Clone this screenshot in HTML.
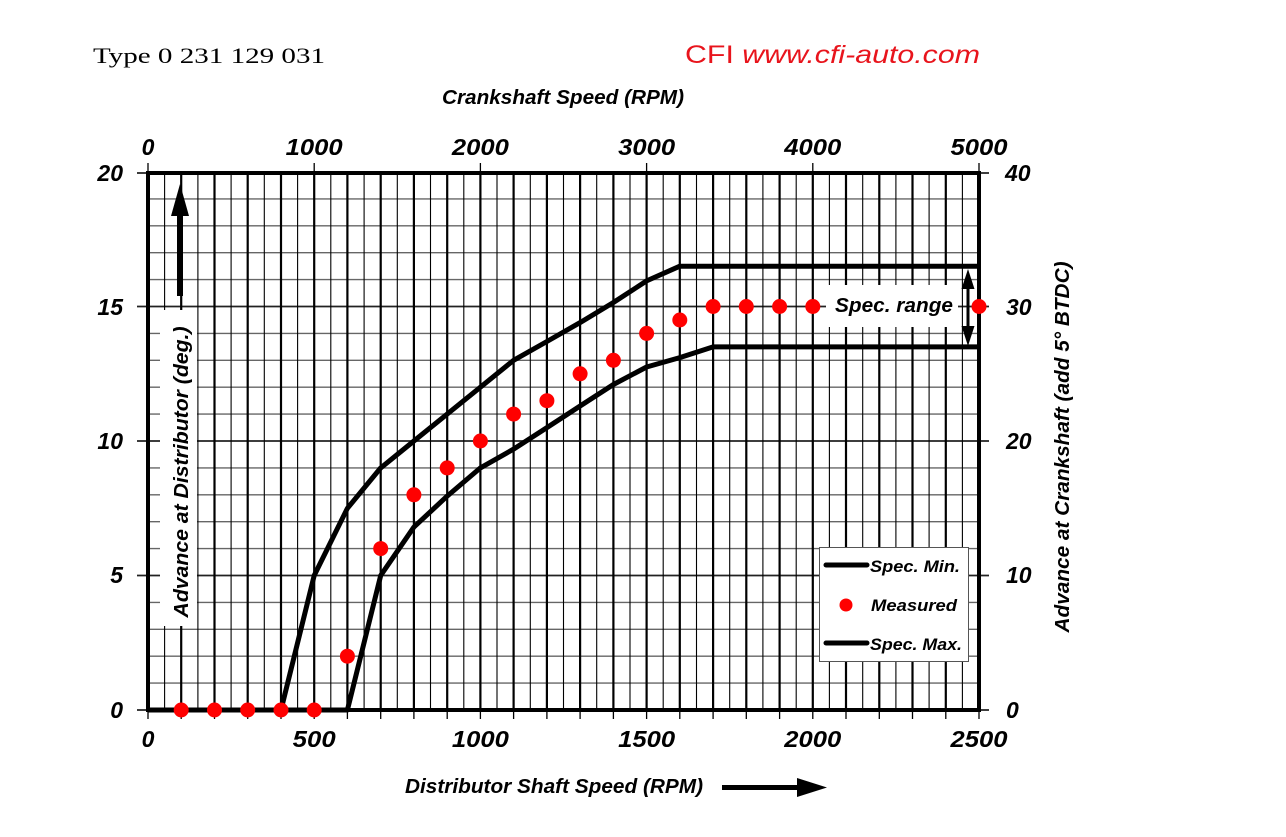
<!DOCTYPE html>
<html><head><meta charset="utf-8"><style>
html,body{margin:0;padding:0;background:#fff;}
svg{display:block;}
text{font-family:"Liberation Sans",Arial,sans-serif;}
.b{font-weight:bold;font-style:italic;fill:#000;}
</style></head><body>
<svg width="1286" height="837" viewBox="0 0 1286 837" xmlns="http://www.w3.org/2000/svg">
<rect width="1286" height="837" fill="#fff"/>
<text x="93" y="63" font-family="Liberation Serif, serif" font-size="22" fill="#000" textLength="232" lengthAdjust="spacingAndGlyphs" style="font-family:'Liberation Serif',serif">Type 0 231 129 031</text>
<text x="685" y="63" font-size="25" fill="#e8141c" textLength="295" lengthAdjust="spacingAndGlyphs">CFI <tspan font-style="italic">www.cfi-auto.com</tspan></text>
<text class="b" x="442" y="104" font-size="20" textLength="242" lengthAdjust="spacingAndGlyphs">Crankshaft Speed (RPM)</text>

<!-- minor horizontal grid -->
<path fill="none" stroke="#666" stroke-width="1.4" d="M148 683.1H979M148 656.2H979M148 629.3H979M148 602.4H979M148 548.6H979M148 521.7H979M148 494.8H979M148 467.9H979M148 414.1H979M148 387.2H979M148 360.3H979M148 333.4H979M148 279.6H979M148 252.7H979M148 225.8H979M148 198.9H979"/>
<!-- major horizontal grid + ticks -->
<path fill="none" stroke="#222" stroke-width="1.8" d="M137 575.5H989M137 441H989M137 306.5H989M137 173H989M137 710H989"/>
<!-- thin vertical -->
<path fill="none" stroke="#000" stroke-width="1.1" d="M164.6 173V710M197.9 173V710M231.1 173V710M264.3 173V710M297.6 173V710M330.8 173V710M364.1 173V710M397.3 173V710M430.5 173V710M463.8 173V710M497 173V710M530.3 173V710M563.5 173V710M596.7 173V710M630 173V710M663.2 173V710M696.5 173V710M729.7 173V710M762.9 173V710M796.2 173V710M829.4 173V710M862.7 173V710M895.9 173V710M929.1 173V710M962.4 173V710"/>
<!-- thick vertical -->
<path fill="none" stroke="#000" stroke-width="2.2" d="M181.2 173V710M214.5 173V710M247.7 173V710M281 173V710M314.2 173V710M347.4 173V710M380.7 173V710M413.9 173V710M447.2 173V710M480.4 173V710M513.6 173V710M546.9 173V710M580.1 173V710M613.4 173V710M646.6 173V710M679.8 173V710M713.1 173V710M746.3 173V710M779.6 173V710M812.8 173V710M846 173V710M879.3 173V710M912.5 173V710M945.8 173V710"/>
<!-- bottom ticks -->
<path fill="none" stroke="#000" stroke-width="1.3" d="M148 710V719M181.2 710V719M214.5 710V719M247.7 710V719M281 710V719M314.2 710V719M347.4 710V719M380.7 710V719M413.9 710V719M447.2 710V719M480.4 710V719M513.6 710V719M546.9 710V719M580.1 710V719M613.4 710V719M646.6 710V719M679.8 710V719M713.1 710V719M746.3 710V719M779.6 710V719M812.8 710V719M846 710V719M879.3 710V719M912.5 710V719M945.8 710V719M979 710V719"/>
<!-- top ticks -->
<path fill="none" stroke="#000" stroke-width="1.3" d="M148 163V173M314.2 163V173M480.4 163V173M646.6 163V173M812.8 163V173M979 163V173"/>

<!-- white boxes -->
<rect x="160" y="310" width="37" height="316" fill="#fff"/>
<rect x="826" y="285" width="132" height="42" fill="#fff"/>

<!-- border -->
<rect x="148" y="173" width="831" height="537" fill="none" stroke="#000" stroke-width="4"/>

<!-- left arrow -->
<rect x="177" y="212" width="6" height="84" fill="#000"/>
<polygon points="171,216 189,216 180,184" fill="#000"/>

<!-- curves -->
<polyline fill="none" stroke="#000" stroke-width="5" stroke-linejoin="round" points="148,710 281,710 314.2,575.5 347.4,508.3 380.7,467.9 413.9,441 447.2,414.1 480.4,387.2 513.6,360.3 546.9,341.5 580.1,322.6 613.4,302.5 646.6,280.9 679.8,266.2 979,266.2"/>
<polyline fill="none" stroke="#000" stroke-width="5" stroke-linejoin="round" points="148,710 347.4,710 380.7,575.5 413.9,527.1 447.2,496.1 480.4,467.9 513.6,449.1 546.9,427.6 580.1,406 613.4,384.5 646.6,367 679.8,357.6 713.1,346.9 979,346.9"/>

<!-- spec range double arrow -->
<rect x="966.5" y="285" width="3" height="46" fill="#000"/>
<polygon points="961.5,289 974.5,289 968,269" fill="#000"/>
<polygon points="961.5,326 974.5,326 968,346" fill="#000"/>
<text class="b" x="835" y="312" font-size="20" textLength="118" lengthAdjust="spacingAndGlyphs">Spec. range</text>

<!-- measured dots -->
<g fill="#ff0000">
<circle cx="181.2" cy="710" r="7.5"/><circle cx="214.5" cy="710" r="7.5"/><circle cx="247.7" cy="710" r="7.5"/><circle cx="281" cy="710" r="7.5"/><circle cx="314.2" cy="710" r="7.5"/>
<circle cx="347.4" cy="656.2" r="7.5"/><circle cx="380.7" cy="548.6" r="7.5"/><circle cx="413.9" cy="494.8" r="7.5"/><circle cx="447.2" cy="467.9" r="7.5"/><circle cx="480.4" cy="441" r="7.5"/>
<circle cx="513.6" cy="414.1" r="7.5"/><circle cx="546.9" cy="400.7" r="7.5"/><circle cx="580.1" cy="373.8" r="7.5"/><circle cx="613.4" cy="360.3" r="7.5"/><circle cx="646.6" cy="333.4" r="7.5"/>
<circle cx="679.8" cy="320" r="7.5"/><circle cx="713.1" cy="306.5" r="7.5"/><circle cx="746.3" cy="306.5" r="7.5"/><circle cx="779.6" cy="306.5" r="7.5"/><circle cx="812.8" cy="306.5" r="7.5"/><circle cx="979" cy="306.5" r="7.5"/>
</g>

<!-- legend -->
<rect x="819.5" y="547.5" width="149" height="114" fill="#fff" stroke="#555" stroke-width="1"/>
<line x1="826" y1="565" x2="867" y2="565" stroke="#000" stroke-width="5" stroke-linecap="round"/>
<text class="b" x="870" y="572" font-size="17" textLength="90" lengthAdjust="spacingAndGlyphs">Spec. Min.</text>
<circle cx="846" cy="605" r="6.5" fill="#ff0000"/>
<text class="b" x="871" y="611" font-size="17" textLength="86" lengthAdjust="spacingAndGlyphs">Measured</text>
<line x1="826" y1="643" x2="867" y2="643" stroke="#000" stroke-width="5" stroke-linecap="round"/>
<text class="b" x="870" y="650" font-size="17" textLength="92" lengthAdjust="spacingAndGlyphs">Spec. Max.</text>

<!-- top labels -->
<g class="b" font-size="23" text-anchor="middle">
<text x="148" y="155">0</text>
<text x="314.2" y="155" textLength="57" lengthAdjust="spacingAndGlyphs">1000</text>
<text x="480.4" y="155" textLength="57" lengthAdjust="spacingAndGlyphs">2000</text>
<text x="646.6" y="155" textLength="57" lengthAdjust="spacingAndGlyphs">3000</text>
<text x="812.8" y="155" textLength="57" lengthAdjust="spacingAndGlyphs">4000</text>
<text x="979" y="155" textLength="57" lengthAdjust="spacingAndGlyphs">5000</text>
</g>
<!-- bottom labels -->
<g class="b" font-size="23" text-anchor="middle">
<text x="148" y="747">0</text>
<text x="314.2" y="747" textLength="43" lengthAdjust="spacingAndGlyphs">500</text>
<text x="480.4" y="747" textLength="57" lengthAdjust="spacingAndGlyphs">1000</text>
<text x="646.6" y="747" textLength="57" lengthAdjust="spacingAndGlyphs">1500</text>
<text x="812.8" y="747" textLength="57" lengthAdjust="spacingAndGlyphs">2000</text>
<text x="979" y="747" textLength="57" lengthAdjust="spacingAndGlyphs">2500</text>
</g>
<!-- left labels -->
<g class="b" font-size="23" text-anchor="end">
<text x="123" y="181">20</text>
<text x="123" y="315">15</text>
<text x="123" y="449">10</text>
<text x="123" y="583">5</text>
<text x="123" y="718">0</text>
</g>
<!-- right labels -->
<g class="b" font-size="23">
<text x="1005" y="181">40</text>
<text x="1006" y="315">30</text>
<text x="1006" y="449">20</text>
<text x="1006" y="583">10</text>
<text x="1006" y="718">0</text>
</g>

<!-- axis titles -->
<text class="b" x="405" y="793" font-size="20" textLength="298" lengthAdjust="spacingAndGlyphs">Distributor  Shaft Speed (RPM)</text>
<rect x="722" y="785" width="78" height="5" fill="#000"/>
<polygon points="797,778 827,787.5 797,797" fill="#000"/>
<text class="b" font-size="20" text-anchor="middle" transform="translate(188,472) rotate(-90)" textLength="291" lengthAdjust="spacingAndGlyphs">Advance at Distributor (deg.)</text>
<text class="b" font-size="20" text-anchor="middle" transform="translate(1069,447) rotate(-90)" textLength="371" lengthAdjust="spacingAndGlyphs">Advance at Crankshaft (add 5° BTDC)</text>
</svg>
</body></html>
